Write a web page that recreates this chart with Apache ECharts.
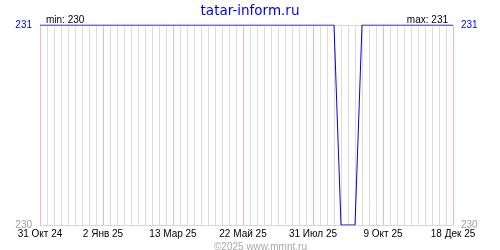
<!DOCTYPE html>
<html>
<head>
<meta charset="utf-8">
<script src="https://cdn.jsdelivr.net/npm/echarts@6/dist/echarts.min.js"></script>
<style>
html,body{margin:0;padding:0;background:#fff;}
#c{width:500px;height:250px;}
</style>
</head>
<body>
<div id="c"></div>
<script>
// Weekly dates (categories)
const categories = [
  '31 Окт 24','7 Ноя 24','14 Ноя 24','21 Ноя 24','28 Ноя 24','5 Дек 24','12 Дек 24','19 Дек 24','26 Дек 24',
  '2 Янв 25','9 Янв 25','16 Янв 25','23 Янв 25','30 Янв 25','6 Фев 25','13 Фев 25','20 Фев 25','27 Фев 25','6 Мар 25',
  '13 Мар 25','20 Мар 25','27 Мар 25','3 Апр 25','10 Апр 25','17 Апр 25','24 Апр 25','1 Май 25','8 Май 25','15 Май 25',
  '22 Май 25','29 Май 25','5 Июн 25','12 Июн 25','19 Июн 25','26 Июн 25','3 Июл 25','10 Июл 25','17 Июл 25','24 Июл 25',
  '31 Июл 25','7 Авг 25','14 Авг 25','21 Авг 25','28 Авг 25','4 Сен 25','11 Сен 25','18 Сен 25','25 Сен 25','2 Окт 25',
  '9 Окт 25','16 Окт 25','23 Окт 25','30 Окт 25','6 Ноя 25','13 Ноя 25','20 Ноя 25','27 Ноя 25','4 Дек 25','11 Дек 25',
  '18 Дек 25'
];
// Series values
const values = [
  231,231,231,231,231,231,231,231,231,
  231,231,231,231,231,231,231,231,231,231,
  231,231,231,231,231,231,231,231,231,231,
  231,231,231,231,231,231,231,231,231,231,
  231,231,231,231,230,230,230,231,231,231,
  231,231,231,231,231,231,231,231,231,231,
  231
];
// Labelled tick dates
const tickLabels = ['31 Окт 24','2 Янв 25','13 Мар 25','22 Май 25','31 Июл 25','9 Окт 25','18 Дек 25'];
const yTicks = [230, 231];

const vMin = Math.min(...values), vMax = Math.max(...values);
const FONT = 'Liberation Sans';
const labelColor = (v) => (v == yTicks[1] ? '#0000ff' : '#a0a0a0');
const isLabelled = (i) => tickLabels.includes(categories[i]);
const gridColors = categories.map((c, i) => (isLabelled(i) ? '#ffb4b4' : '#dcdcdc'));

const chart = echarts.init(document.getElementById('c'), null, {renderer: 'canvas'});
chart.setOption({
  animation: false,
  backgroundColor: '#ffffff',
  title: [
    {text: 'tatar-inform.ru', left: 'center', top: -1,
     textStyle: {fontFamily: 'DejaVu Sans', fontSize: 13.5, fontWeight: 'normal', color: '#0000ee'}},
    {text: 'min: ' + vMin, left: 41, top: 10,
     textStyle: {fontFamily: FONT, fontSize: 10, fontWeight: 'normal', color: '#000'}},
    {text: 'max: ' + vMax, right: 47, top: 10,
     textStyle: {fontFamily: FONT, fontSize: 10, fontWeight: 'normal', color: '#000'}},
    {text: '©2025 www.mmnt.ru', left: 209, top: 237,
     textStyle: {fontFamily: FONT, fontSize: 10, fontWeight: 'normal', color: '#a8a8a8'}}
  ],
  grid: {left: 40, right: 47, top: 25, bottom: 25, containLabel: false},
  xAxis: {
    type: 'category',
    data: categories,
    boundaryGap: false,
    position: 'bottom',
    axisLine: {show: true, lineStyle: {color: '#d8d8d8', width: 1}},
    axisTick: {show: false, interval: 0},
    axisLabel: {
      interval: isLabelled,
      showMinLabel: true, showMaxLabel: true,
      fontFamily: FONT, fontSize: 10, color: '#000', margin: 4
    },
    splitLine: {show: true, interval: 0, showMinLine: true, showMaxLine: true,
                lineStyle: {color: gridColors, width: 1}}
  },
  yAxis: [
    {type: 'value', min: yTicks[0], max: yTicks[1], interval: 1, position: 'left',
     axisLine: {show: false}, axisTick: {show: false},
     axisLabel: {fontFamily: FONT, fontSize: 10, margin: 8, color: labelColor},
     splitLine: {show: true, lineStyle: {color: '#d8d8d8', width: 1}}},
    {type: 'value', min: yTicks[0], max: yTicks[1], interval: 1, position: 'right',
     axisLine: {show: false}, axisTick: {show: false},
     axisLabel: {fontFamily: FONT, fontSize: 10, margin: 8, color: labelColor},
     splitLine: {show: false}}
  ],
  series: [{
    type: 'line',
    data: values,
    xAxisIndex: 0,
    yAxisIndex: 0,
    symbol: 'none',
    lineStyle: {color: '#0000dd', width: 1},
    z: 5
  }]
});
</script>
</body>
</html>
